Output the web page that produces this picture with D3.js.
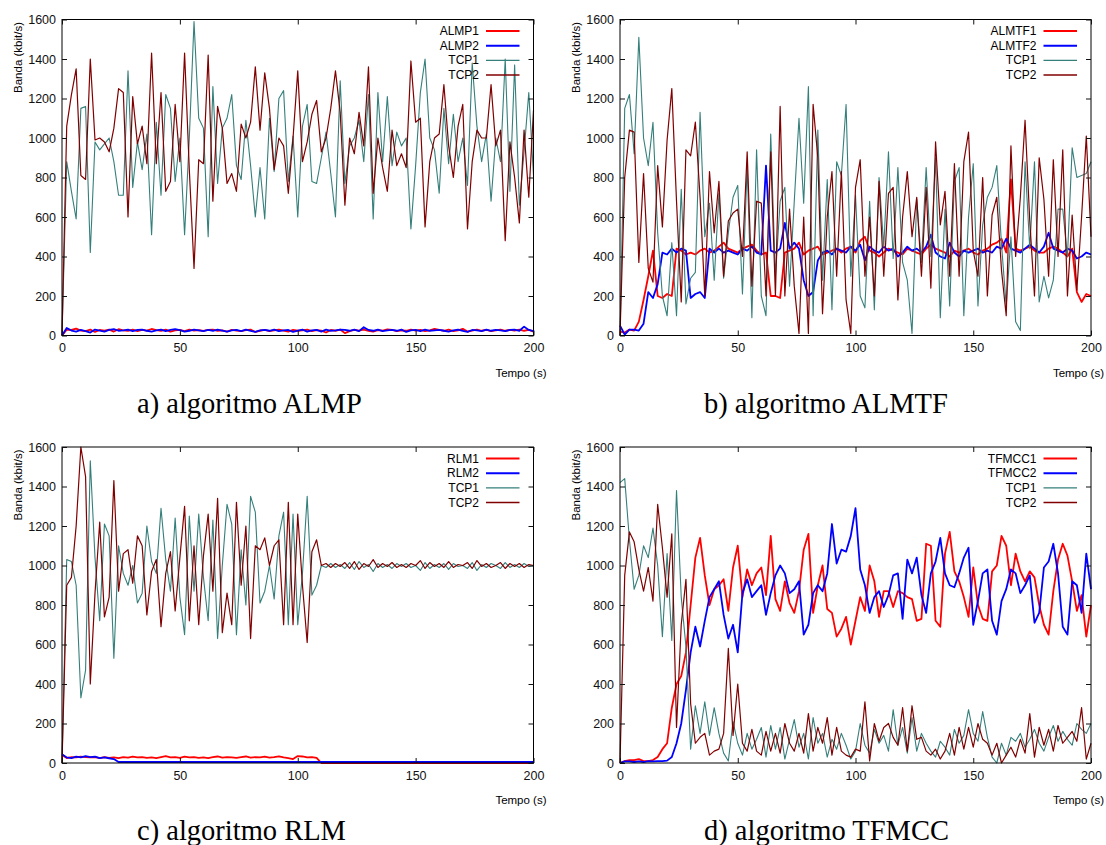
<!DOCTYPE html>
<html>
<head>
<meta charset="utf-8">
<script src="https://cdn.jsdelivr.net/npm/d3@7"></script>
<style>
  body { margin: 0; background: #fff; }
  svg { display: block; }
</style>
</head>
<body>
<div id="chart"></div>
<script>
// instantes de amostragem (s), um valor a cada 2 s
const tempo = d3.range(0, 201, 2);
const yTicks = [0, 200, 400, 600, 800, 1000, 1200, 1400, 1600];
const xTicks = [0, 50, 100, 150, 200];

// ---- a) ALMP ----
const almp1 = [
  0, 30, 28, 35, 25, 22, 30, 18, 28, 25,
  30, 20, 32, 26, 24, 30, 22, 28, 25, 33,
  27, 24, 30, 20, 26, 28, 22, 30, 25, 27,
  23, 28, 30, 24, 26, 20, 28, 25, 22, 27,
  30, 18, 24, 28, 22, 26, 30, 25, 20, 28,
  24, 26, 30, 22, 27, 25, 15, 28, 24, 30,
  12, 22, 28, 25, 30, 24, 20, 27, 25, 31,
  28, 22, 26, 24, 30, 25, 28, 22, 26, 34,
  28, 24, 30, 22, 26, 34, 20, 25, 30, 24,
  28, 22, 26, 30, 24, 28, 25, 30, 24, 28,
  20];
const almp2 = [
  0, 38, 25, 20, 28, 22, 15, 30, 25, 20,
  28, 32, 24, 26, 30, 22, 28, 30, 24, 20,
  26, 30, 22, 28, 32, 27, 20, 24, 30, 26,
  22, 28, 24, 30, 25, 20, 26, 28, 22, 30,
  24, 18, 26, 28, 24, 30, 22, 26, 28, 18,
  25, 30, 20, 26, 28, 20, 30, 24, 26, 30,
  28, 24, 30, 22, 42, 28, 24, 30, 22, 26,
  28, 24, 30, 18, 26, 28, 22, 30, 24, 26,
  28, 24, 20, 26, 30, 24, 18, 28, 26, 22,
  30, 24, 28, 26, 22, 28, 30, 24, 45, 28,
  22];
const tcp1A = [
  0, 880, 730, 590, 1150, 1160, 420, 980, 940, 970,
  1000, 880, 710, 710, 1340, 750, 980, 840, 1020, 510,
  1080, 710, 1220, 1150, 780, 1000, 510, 1000, 1590, 1100,
  1050, 500, 1260, 770, 1050, 1100, 1220, 860, 790, 1090,
  860, 600, 850, 590, 1100, 830, 1200, 1240, 780, 1010,
  600, 1060, 1170, 780, 770, 900, 1030, 820, 600, 1290,
  770, 960, 1000, 1090, 880, 1220, 590, 1230, 880, 1210,
  860, 1030, 960, 1000, 540, 860, 1230, 1400, 1000, 940,
  720, 1150, 870, 1120, 880, 1000, 760, 1380, 1060, 880,
  1020, 680, 1000, 880, 1400, 730, 1370, 660, 930, 1230,
  810];
const tcp2A = [
  0, 1060, 1220, 1350, 810, 790, 1400, 990, 1000, 980,
  930, 1050, 1250, 1230, 600, 1210, 970, 1060, 870, 1430,
  870, 1230, 730, 780, 1170, 880, 1430, 840, 340, 890,
  870, 1420, 680, 1160, 1050, 770, 820, 730, 1070, 1000,
  1080, 1360, 1040, 1330, 1150, 840, 1000, 960, 720, 1000,
  1340, 880, 980, 1120, 1190, 930, 1000, 1150, 1340, 1130,
  660, 1000, 920, 1130, 960, 1360, 720, 1000, 850, 730,
  1040, 860, 920, 850, 1390, 1080, 1100, 550, 880, 1000,
  1020, 1270, 960, 800, 1060, 1170, 540, 880, 1040, 1000,
  1000, 1270, 960, 1040, 480, 980, 800, 570, 1040, 700,
  1140];

// ---- b) ALMTF ----
const almtf1 = [
  20, 15, 30, 25, 70, 180, 300, 430, 200, 190,
  210, 200, 440, 430, 410, 420, 410, 430, 440, 420,
  430, 450, 470, 440, 430, 420, 440, 450, 460, 430,
  410, 420, 200, 200, 190, 420, 430, 440, 470, 410,
  430, 440, 450, 410, 420, 430, 440, 420, 440, 450,
  420, 480, 500, 430, 420, 400, 420, 440, 430, 420,
  410, 440, 430, 420, 410, 440, 460, 440, 430, 420,
  400, 430, 420, 430, 440, 420, 410, 430, 440, 460,
  470, 490, 420, 790, 440, 430, 440, 450, 430, 420,
  420, 440, 450, 440, 420, 400, 440, 220, 170, 210,
  200];
const almtf2 = [
  50, 5, 30, 30, 25, 60, 220, 190, 260, 420,
  410, 440, 420, 440, 430, 190, 210, 220, 190, 440,
  420, 440, 420, 430, 420, 410, 440, 430, 450, 420,
  410, 860, 430, 420, 440, 570, 440, 470, 440, 280,
  200, 220, 380, 420, 430, 410, 440, 430, 420, 450,
  430, 460, 380, 450, 430, 420, 450, 430, 440, 400,
  420, 450, 430, 440, 420, 450, 510, 420, 400, 390,
  470, 420, 400, 430, 420, 430, 440, 420, 430, 420,
  450, 440, 490, 440, 430, 420, 440, 460, 440, 420,
  450, 520, 440, 430, 420, 440, 430, 390, 400, 420,
  410];
const tcp1B = [
  0, 1150, 1220, 920, 1510, 1000, 860, 1080, 520, 200,
  100, 470, 100, 740, 160, 290, 320, 1130, 500, 670,
  280, 720, 290, 520, 700, 760, 210, 860, 90, 940,
  200, 100, 1020, 300, 680, 750, 250, 680, 1100, 670,
  1260, 100, 1040, 280, 790, 130, 880, 810, 1170, 300,
  710, 200, 140, 680, 130, 800, 450, 930, 390, 850,
  370, 280, 10, 690, 370, 850, 400, 900, 90, 640,
  150, 780, 850, 100, 600, 870, 150, 560, 700, 750,
  860, 460, 150, 500, 70, 25, 880, 440, 880, 170,
  300, 190, 280, 640, 640, 400, 950, 800, 810, 820,
  880];
const tcp2B = [
  0, 800, 1040, 1030, 370, 820, 340, 270, 860, 550,
  990, 1250, 680, 170, 940, 910, 1080, 700, 200, 830,
  520, 780, 300, 580, 620, 640, 400, 930, 250, 680,
  670, 200, 930, 200, 1160, 200, 640, 250, 10, 600,
  10, 1170, 900, 110, 600, 830, 300, 830, 180, 10,
  750, 890, 300, 600, 200, 780, 300, 720, 750, 180,
  600, 830, 500, 700, 300, 750, 240, 980, 560, 730,
  300, 870, 300, 880, 1030, 430, 300, 800, 200, 610,
  700, 330, 100, 960, 400, 700, 1090, 580, 200, 900,
  690, 300, 890, 400, 940, 200, 610, 230, 600, 1010,
  500];

// ---- c) RLM ----
const rlm1 = [
  40, 25, 30, 28, 32, 30, 28, 30, 25, 30,
  26, 28, 25, 30, 27, 32, 28, 30, 26, 28,
  25, 30, 35, 28, 30, 26, 32, 28, 30, 26,
  28, 25, 30, 33, 27, 30, 28, 26, 30, 33,
  27, 30, 28, 32, 27, 30, 34, 28, 25, 20,
  35, 33, 28, 30, 26, 0, 0, 0, 0, 0,
  0, 0, 0, 0, 0, 0, 0, 0, 0, 0,
  0, 0, 0, 0, 0, 0, 0, 0, 0, 0,
  0, 0, 0, 0, 0, 0, 0, 0, 0, 0,
  0, 0, 0, 0, 0, 0, 0, 0, 0, 0,
  0];
const rlm2 = [
  45, 28, 25, 32, 28, 35, 30, 32, 25, 28,
  24, 20, 5, 5, 5, 5, 5, 5, 5, 5,
  5, 5, 5, 5, 5, 5, 5, 5, 5, 5,
  5, 5, 5, 5, 5, 5, 5, 5, 5, 5,
  5, 5, 5, 5, 5, 5, 5, 5, 5, 5,
  5, 5, 5, 5, 5, 5, 5, 5, 5, 5,
  5, 5, 5, 5, 5, 5, 5, 5, 5, 5,
  5, 5, 5, 5, 5, 5, 5, 5, 5, 5,
  5, 5, 5, 5, 5, 5, 5, 5, 5, 5,
  5, 5, 5, 5, 5, 5, 5, 5, 5, 5,
  5];
const tcp1C = [
  0, 1030, 1020, 900, 330, 470, 1530, 1040, 720, 1210,
  1150, 530, 1100, 960, 900, 1000, 810, 860, 1200, 1020,
  960, 1290, 1030, 870, 1240, 840, 650, 1250, 870, 1260,
  940, 720, 1230, 630, 1000, 1310, 1210, 650, 1080, 800,
  1350, 1270, 810, 870, 1000, 830, 1150, 1270, 700, 1260,
  700, 960, 1350, 850, 900, 1000, 990, 1010, 990, 1005,
  985, 1015, 980, 1020, 990, 1005, 970, 1010, 990, 1005,
  985, 1010, 995, 1010, 990, 1000, 975, 1015, 985, 1005,
  990, 1010, 980, 1010, 995, 1000, 985, 1015, 975, 1005,
  990, 1010, 1000, 985, 1015, 990, 1005, 990, 1010, 995,
  1000];
const tcp2C = [
  0, 900, 940, 1200, 1600, 1450, 400, 860, 1220, 740,
  840, 1430, 870, 1060, 1080, 910, 1150, 1100, 750, 970,
  1030, 690, 960, 1070, 770, 1040, 1300, 720, 1100, 700,
  1050, 1260, 870, 1340, 660, 860, 700, 1320, 900, 1200,
  630, 1100, 1080, 1140, 1000, 1100, 1130, 700, 1320, 700,
  1260, 900, 610, 1070, 1130, 1000, 1010, 990, 1010, 995,
  1015, 985, 1020, 980, 1010, 995, 1030, 990, 1010, 995,
  1015, 990, 1005, 990, 1010, 1000, 1025, 985, 1015, 995,
  1010, 990, 1020, 990, 1005, 1000, 1015, 985, 1025, 995,
  1010, 990, 1000, 1015, 985, 1010, 995, 1010, 990, 1005,
  1000];

// ---- d) TFMCC ----
const tfmcc1 = [
  0, 10, 15, 15, 20, 10, 10, 15, 30, 70,
  100, 280, 400, 440, 560, 800, 1040, 1140, 950, 800,
  880, 900, 930, 770, 990, 1100, 840, 980, 900, 960,
  990, 850, 1150, 830, 770, 920, 810, 760, 870, 1080,
  1160, 760, 900, 1000, 780, 760, 640, 680, 740, 600,
  720, 840, 770, 1000, 920, 740, 870, 870, 790, 870,
  860, 840, 830, 720, 730, 1110, 1100, 720, 690, 1060,
  1170, 970, 920, 840, 740, 990, 800, 730, 720, 970,
  1000, 1150, 1100, 900, 1060, 970, 920, 970, 940, 800,
  700, 650, 870, 1030, 1110, 1050, 920, 770, 850, 640,
  800];
const tfmcc2 = [
  0, 8, 8, 5, 8, 5, 10, 8, 10, 10,
  12, 30, 100, 200, 370, 560, 690, 590, 720, 840,
  880, 920, 750, 630, 700, 560, 860, 930, 840, 870,
  900, 750, 860, 950, 1000, 960, 860, 880, 920, 650,
  700, 860, 900, 870, 960, 1210, 1010, 1080, 1070, 1150,
  1290, 980, 900, 760, 840, 870, 790, 850, 950, 960,
  730, 1030, 960, 1040, 850, 760, 960, 1020, 1140, 960,
  900, 890, 960, 1040, 1090, 700, 820, 960, 980, 720,
  650, 820, 880, 980, 960, 860, 900, 950, 710, 760,
  990, 1020, 1110, 960, 690, 650, 920, 900, 760, 1060,
  880];
const tcp1D = [
  1420, 1440, 1130, 880, 950, 1100, 1040, 1190, 1000, 640,
  1060, 620, 1380, 840, 590, 70, 290, 150, 310, 140,
  280, 150, 50, 10, 210, 100, 40, 150, 70, 120,
  180, 30, 190, 70, 180, 20, 120, 220, 80, 150,
  20, 230, 100, 150, 30, 120, 70, 150, 90, 20,
  60, 200, 90, 50, 170, 100, 140, 60, 270, 90,
  180, 50, 230, 60, 150, 100, 60, 30, 110, 80,
  40, 170, 100, 140, 270, 150, 110, 260, 130, 30,
  0, 100, 40, 130, 110, 150, 80, 120, 170, 100,
  60, 130, 190, 110, 160, 120, 90, 200, 170, 150,
  200];
const tcp2D = [
  0, 950, 1170, 1120, 980, 870, 990, 820, 1310, 1090,
  840, 1160, 180, 700, 930, 300, 100, 130, 150, 40,
  60, 70, 150, 580, 140, 400, 100, 60, 170, 60,
  40, 160, 60, 150, 50, 200, 100, 60, 150, 50,
  250, 60, 180, 100, 230, 40, 180, 60, 40, 30,
  70, 60, 310, 10, 200, 110, 180, 200, 130, 90,
  280, 60, 290, 120, 130, 60, 40, 70, 20, 60,
  150, 40, 180, 70, 180, 80, 200, 120, 100, 40,
  100, 0, 40, 80, 30, 120, 50, 250, 30, 180,
  90, 170, 60, 190, 100, 130, 160, 110, 280, 20,
  100];

// cores e espessuras (estilo gnuplot)
const cores = ["#ff0000", "#0000ff", "#357f7b", "#800000"];
const larguras = [1.8, 1.8, 1.1, 1.2];

// posicao de cada grafico na pagina
const paineis = [
  {left: 62, right: 533.5, top: 19.5, bottom: 335.5, tx: 137, titulo: "a) algoritmo ALMP",
   nomes: ["ALMP1", "ALMP2", "TCP1", "TCP2"], series: [almp1, almp2, tcp1A, tcp2A]},
  {left: 620, right: 1091, top: 19.5, bottom: 335.5, tx: 704, titulo: "b) algoritmo ALMTF",
   nomes: ["ALMTF1", "ALMTF2", "TCP1", "TCP2"], series: [almtf1, almtf2, tcp1B, tcp2B]},
  {left: 62, right: 533.5, top: 447, bottom: 763, tx: 137, titulo: "c) algoritmo RLM",
   nomes: ["RLM1", "RLM2", "TCP1", "TCP2"], series: [rlm1, rlm2, tcp1C, tcp2C]},
  {left: 620, right: 1091, top: 447, bottom: 763, tx: 704, titulo: "d) algoritmo TFMCC",
   nomes: ["TFMCC1", "TFMCC2", "TCP1", "TCP2"], series: [tfmcc1, tfmcc2, tcp1D, tcp2D]}
];

const fonte = "'Liberation Sans', Arial, Helvetica, sans-serif";

const svg = d3.select("#chart")
  .append("svg")
  .attr("width", 1106)
  .attr("height", 845);

paineis.forEach(function(p) {
  const x = d3.scaleLinear().domain([0, 200]).range([p.left, p.right]);
  const y = d3.scaleLinear().domain([0, 1600]).range([p.bottom, p.top]);
  const g = svg.append("g");

  // curvas
  const linha = d3.line()
    .x((d, i) => x(tempo[i]))
    .y(d => y(d));

  p.series.forEach(function(s, k) {
    g.append("path")
      .datum(s)
      .attr("d", linha)
      .attr("fill", "none")
      .attr("stroke", cores[k])
      .attr("stroke-width", larguras[k])
      .attr("stroke-linejoin", "round");
  });

  // moldura
  g.append("rect")
    .attr("x", p.left)
    .attr("y", p.top)
    .attr("width", p.right - p.left)
    .attr("height", p.bottom - p.top)
    .attr("fill", "none")
    .attr("stroke", "#000")
    .attr("stroke-width", 1);

  // eixos com marcas para dentro (e espelhadas)
  const estilo = sel => sel
    .attr("font-size", 12.5)
    .attr("font-family", fonte)
    .attr("color", "#111")
    .call(a => a.select(".domain").remove());

  g.append("g")
    .attr("transform", `translate(${p.left},0)`)
    .call(d3.axisLeft(y).tickValues(yTicks).tickSize(-5).tickPadding(6).tickFormat(d3.format("d")))
    .call(estilo);
  g.append("g")
    .attr("transform", `translate(${p.right},0)`)
    .call(d3.axisRight(y).tickValues(yTicks).tickSize(-5).tickFormat(() => ""))
    .call(estilo);
  g.append("g")
    .attr("transform", `translate(0,${p.bottom})`)
    .call(d3.axisBottom(x).tickValues(xTicks).tickSize(-5).tickPadding(8).tickFormat(d3.format("d")))
    .call(estilo);
  g.append("g")
    .attr("transform", `translate(0,${p.top})`)
    .call(d3.axisTop(x).tickValues(xTicks).tickSize(-5).tickFormat(() => ""))
    .call(estilo);

  // rotulos dos eixos
  g.append("text")
    .attr("transform", `translate(${p.left - 44},${p.top + 38}) rotate(-90)`)
    .attr("text-anchor", "middle")
    .attr("dominant-baseline", "central")
    .attr("font-family", fonte)
    .attr("font-size", 11.5)
    .attr("fill", "#000")
    .text("Banda (kbit/s)");

  g.append("text")
    .attr("x", p.right + 13)
    .attr("y", p.bottom + 41)
    .attr("text-anchor", "end")
    .attr("font-family", fonte)
    .attr("font-size", 11.5)
    .attr("fill", "#000")
    .text("Tempo (s)");

  // legenda
  p.nomes.forEach(function(nome, k) {
    const ly = p.top + 11.5 + k * 14.7;
    g.append("text")
      .attr("x", p.right - 54.5)
      .attr("y", ly)
      .attr("text-anchor", "end")
      .attr("dominant-baseline", "central")
      .attr("font-family", fonte)
      .attr("font-size", 12)
      .attr("fill", "#000")
      .text(nome);
    g.append("line")
      .attr("x1", p.right - 47.5)
      .attr("x2", p.right - 14)
      .attr("y1", ly)
      .attr("y2", ly)
      .attr("stroke", cores[k])
      .attr("stroke-width", larguras[k] + 0.3);
  });

  // legenda da figura
  svg.append("text")
    .attr("x", p.tx)
    .attr("y", p.bottom + 77)
    .attr("font-family", "'Liberation Serif', 'Times New Roman', serif")
    .attr("font-size", 28.5)
    .attr("fill", "#000")
    .text(p.titulo);
});
</script>
</body>
</html>
